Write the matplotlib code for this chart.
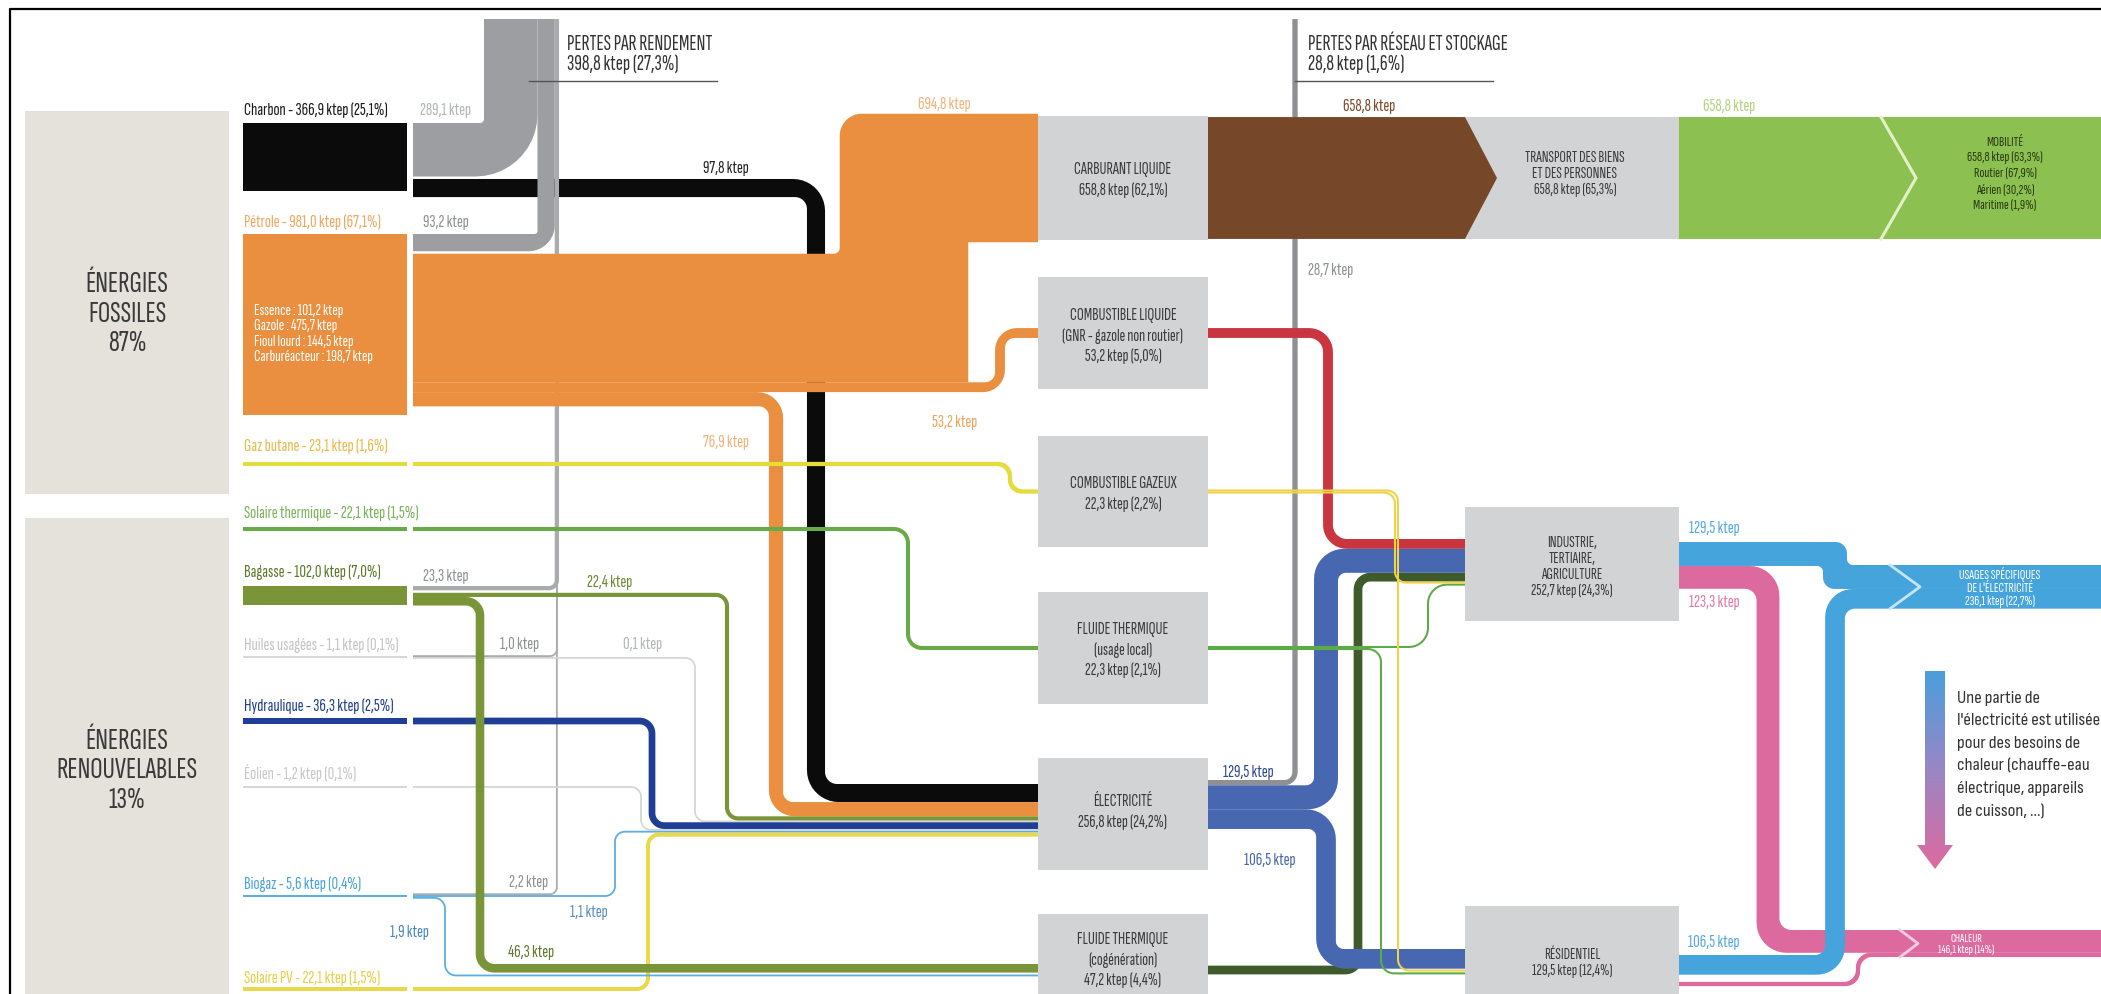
import numpy as np
import matplotlib
matplotlib.use("Agg")
import matplotlib.pyplot as plt
from matplotlib.patches import Polygon, Rectangle
from matplotlib.colors import LinearSegmentedColormap

F_COND = ["Sofia Sans Extra Condensed", "Roboto Condensed", "DejaVu Sans"]
F_NOTE = ["Sofia Sans Condensed", "Roboto Condensed", "DejaVu Sans"]
plt.rcParams["font.family"] = F_COND

# ---------------- données (ktep) ----------------
sources = ["Charbon", "Pétrole", "Gaz butane", "Solaire thermique", "Bagasse",
           "Huiles usagées", "Hydraulique", "Éolien", "Biogaz", "Solaire PV"]
source_ktep = [366.9, 981.0, 23.1, 22.1, 102.0, 1.1, 36.3, 1.2, 5.6, 22.1]
source_pct = ["25,1", "67,1", "1,6", "1,5", "7,0", "0,1", "2,5", "0,1", "0,4", "1,5"]
groupes = ["ÉNERGIES\nFOSSILES\n87%", "ÉNERGIES\nRENOUVELABLES\n13%"]
petrole_detail = ["Essence : 101,2 ktep", "Gazole : 475,7 ktep",
                  "Fioul lourd : 144,5 ktep", "Carburéacteur : 198,7 ktep"]

pertes_rendement = {"Charbon": 289.1, "Pétrole": 93.2, "Bagasse": 23.3,
                    "Huiles usagées": 1.0, "Biogaz": 2.2}
vers_electricite = {"Charbon": 97.8, "Pétrole": 76.9, "Bagasse": 22.4, "Huiles usagées": 0.1,
                    "Hydraulique": 36.3, "Éolien": 1.2, "Biogaz": 1.1, "Solaire PV": 22.1}
vers_carburant = {"Pétrole": 694.8}
vers_gnr = {"Pétrole": 53.2}
vers_gaz = {"Gaz butane": 23.1}
vers_fluide_local = {"Solaire thermique": 22.1}
vers_cogeneration = {"Bagasse": 46.3, "Biogaz": 1.9}

vecteurs = ["CARBURANT LIQUIDE", "COMBUSTIBLE LIQUIDE\n(GNR - gazole non routier)",
            "COMBUSTIBLE GAZEUX", "FLUIDE THERMIQUE\n(usage local)", "ÉLECTRICITÉ",
            "FLUIDE THERMIQUE\n(cogénération)"]
vecteur_ktep = [658.8, 53.2, 22.3, 22.3, 256.8, 47.2]
vecteur_pct = ["62,1", "5,0", "2,2", "2,1", "24,2", "4,4"]

pertes_rendement_total = (398.8, "27,3")
pertes_reseau_total = (28.8, "1,6")
pertes_reseau_elec = 28.7

carburant_vers_transport = 658.8
gnr_vers_industrie = 53.2
gaz_vers_secteurs = [11.2, 11.1]      # industrie, résidentiel
local_vers_secteurs = [11.2, 11.1]    # industrie, résidentiel
elec_vers_secteurs = [129.5, 106.5]   # industrie, résidentiel
cogen_vers_industrie = 47.2

secteurs = ["TRANSPORT DES BIENS\nET DES PERSONNES", "INDUSTRIE,\nTERTIAIRE,\nAGRICULTURE", "RÉSIDENTIEL"]
secteur_ktep = [658.8, 252.7, 129.5]
secteur_pct = ["65,3", "24,3", "12,4"]

industrie_vers_usages = [129.5, 123.3]    # électricité spécifique, chaleur
residentiel_vers_usages = [106.5, 22.8]
usages = ["MOBILITÉ", "USAGES SPÉCIFIQUES\nDE L'ÉLECTRICITÉ", "CHALEUR"]
usage_ktep = [658.8, 236.1, 146.1]
usage_pct = ["63,3", "22,7", "14"]
mobilite_modes = ["Routier", "Aérien", "Maritime"]
mobilite_pct = ["67,9", "30,2", "1,9"]

note = ("Une partie de\nl'électricité est utilisée\npour des besoins de\n"
        "chaleur (chauffe-eau\nélectrique, appareils\nde cuisson, ...)")

# ---------------- styles ----------------
S = 0.185        # pixels per ktep
MINW = 1.8
C_SRC = {"Charbon": "#0b0b0b", "Pétrole": "#e98f3f", "Gaz butane": "#e3dc3c",
         "Solaire thermique": "#68aa48", "Bagasse": "#7a9537", "Huiles usagées": "#d6d6d6",
         "Hydraulique": "#1f3e96", "Éolien": "#d6d6d6", "Biogaz": "#5aaee0",
         "Solaire PV": "#ead84a"}
C_LAB = {"Charbon": "#1a1a1a", "Pétrole": "#f0a860", "Gaz butane": "#e6b94a",
         "Solaire thermique": "#7bb35a", "Bagasse": "#5d7a2a", "Huiles usagées": "#c4c4c4",
         "Hydraulique": "#203f8f", "Éolien": "#c8c8c8", "Biogaz": "#4aa3d8",
         "Solaire PV": "#e8cf45"}
C_LOSS = "#9c9ea1"
C_BOX = "#d1d3d4"
C_GROUP = "#e4e2db"
C_TXT = "#3a3a3a"

FS_SRC = 13
FS_FLOW = 13
FS_NODE = 12.5


def wpx(v):
    return max(v * S, MINW)


def fmt(v):
    return f"{v:.1f}".replace(".", ",")


fig = plt.figure(figsize=(21.01, 9.95), dpi=100)
ax = fig.add_axes([0, 0, 1, 1])
ax.set_xlim(0, 2101)
ax.set_ylim(995, 0)
ax.axis("off")


def round_corners(P, radii, k=0.5523, nseg=12):
    out = [P[0]]
    m = len(P)
    for i in range(1, m - 1):
        a = P[i] - P[i - 1]
        la = np.hypot(*a)
        b = P[i + 1] - P[i]
        lb = np.hypot(*b)
        if la < 1e-9 or lb < 1e-9:
            out.append(P[i])
            continue
        a = a / la
        b = b / lb
        r = min(radii[i - 1], la * (1.0 if i == 1 else 0.5), lb * (1.0 if i == m - 2 else 0.5))
        if r < 0.3:
            out.append(P[i])
            continue
        t1 = P[i] - a * r
        t2 = P[i] + b * r
        c1 = t1 + a * r * k
        c2 = t2 - b * r * k
        t = np.linspace(0, 1, nseg)[:, None]
        out.extend((1 - t) ** 3 * t1 + 3 * (1 - t) ** 2 * t * c1
                   + 3 * (1 - t) * t ** 2 * c2 + t ** 3 * t2)
    out.append(P[-1])
    return np.array(out)


def ribbon(pts, value, color, r_in=10.0, r_out=None, z=3):
    """Orthogonal band of width proportional to value, with rounded corners."""
    w = wpx(value)
    P = np.array(pts, float)
    n = len(P)
    u = np.diff(P, axis=0)
    u = u / np.hypot(u[:, 0], u[:, 1])[:, None]
    nv = np.column_stack([-u[:, 1], u[:, 0]])
    h = w / 2
    m = max(n - 2, 0)
    rin = np.broadcast_to(np.asarray(r_in, float), (m,)) if m else []
    if r_out is None:
        rout = [ri + w for ri in rin]
    else:
        rout = np.broadcast_to(np.asarray(r_out, float), (m,)) if m else []
    A = [P[0] + nv[0] * h]
    B = [P[0] - nv[0] * h]
    ra, rb = [], []
    for i in range(1, n - 1):
        off = (nv[i - 1] + nv[i]) * h
        A.append(P[i] + off)
        B.append(P[i] - off)
        left_inner = np.dot(u[i], nv[i - 1]) > 0
        ri, ro = rin[i - 1], rout[i - 1]
        ra.append(ri if left_inner else ro)
        rb.append(ro if left_inner else ri)
    A.append(P[-1] + nv[-1] * h)
    B.append(P[-1] - nv[-1] * h)
    A = round_corners(np.array(A), ra)
    B = round_corners(np.array(B), rb)
    ax.add_patch(Polygon(np.vstack([A, B[::-1]]), closed=True, facecolor=color,
                         edgecolor="none", zorder=z))


def label(x, y, s, color, size=11, ha="center", z=10, **kw):
    ax.text(x, y, s, color=color, fontsize=size, ha=ha, va="center", zorder=z, **kw)


# ---------------- frame and group boxes ----------------
ax.plot([9.5, 9.5, 2101], [995, 9.5, 9.5], color="black", lw=1.6, zorder=1)
ax.add_patch(Rectangle((25, 112), 204, 383, facecolor=C_GROUP, edgecolor="none", zorder=1))
ax.add_patch(Rectangle((25, 519), 204, 490, facecolor=C_GROUP, edgecolor="none", zorder=1))
label(127, 314, groupes[0], C_TXT, size=22, linespacing=1.12)
label(127, 771, groupes[1], C_TXT, size=22, linespacing=1.12)

# ---------------- primary sources ----------------
XS0, XS1, XS2 = 243, 407, 413
XN0, XN1 = 1038, 1208
Y_TOP = 20
src_layout = {
    "Charbon": dict(top=124, label=110), "Pétrole": dict(top=235, label=222),
    "Gaz butane": dict(mid=465, label=446), "Solaire thermique": dict(mid=530, label=513),
    "Bagasse": dict(top=587, label=572), "Huiles usagées": dict(mid=658, label=645),
    "Hydraulique": dict(mid=722, label=706), "Éolien": dict(mid=788, label=773),
    "Biogaz": dict(mid=897, label=884), "Solaire PV": dict(mid=990, label=978),
}
target_dicts = [("pertes", pertes_rendement), ("carburant", vers_carburant), ("gnr", vers_gnr),
                ("gaz", vers_gaz), ("local", vers_fluide_local), ("elec", vers_electricite),
                ("cogen", vers_cogeneration)]

ystack = {}
for name, v, pct in zip(sources, source_ktep, source_pct):
    lay = src_layout[name]
    w = wpx(v)
    top = lay["top"] if "top" in lay else lay["mid"] - w / 2
    ax.add_patch(Rectangle((XS0, top), XS1 - XS0, w, facecolor=C_SRC[name],
                           edgecolor="none", zorder=4))
    label(XS0 + 1, lay["label"], f"{name} - {fmt(v)} ktep ({pct}%)", C_LAB[name],
          size=FS_SRC, ha="left")
    outs = [(t, d[name]) for t, d in target_dicts if name in d]
    tot = sum(wpx(x) for _, x in outs)
    gap = 2.5 if ("top" in lay and len(outs) > 1) else 0
    y = lay["top"] if "top" in lay else lay["mid"] - tot / 2
    for t, x in outs:
        ww = wpx(x)
        ystack[(name, t)] = y + ww / 2
        y += ww + (gap if t == "pertes" else 0)

label(254, 334, "\n".join(petrole_detail), "white", size=11.8, ha="left", linespacing=1.15)

# loss column positions
xcol = {}
xc = 484
for name in ["Charbon", "Pétrole", "Bagasse"]:
    ww = wpx(pertes_rendement[name])
    xcol[name] = xc + ww / 2
    xc += ww
xcol["Huiles usagées"] = xcol["Bagasse"]
xcol["Biogaz"] = xcol["Bagasse"]

# entry positions on electricity and cogeneration boxes
elec_order = ["Charbon", "Pétrole", "Bagasse", "Huiles usagées", "Hydraulique",
              "Éolien", "Biogaz", "Solaire PV"]
yE = {}
y = 785
for n_ in elec_order:
    ww = wpx(vers_electricite[n_])
    yE[n_] = y + ww / 2
    y += ww
x_elec_turn = {"Charbon": 816, "Pétrole": 776, "Bagasse": 727, "Huiles usagées": 695,
               "Hydraulique": 652, "Éolien": 641, "Biogaz": 615, "Solaire PV": 648}
yC = {}
y = 965
for n_ in ["Bagasse", "Biogaz"]:
    ww = wpx(vers_cogeneration[n_])
    yC[n_] = y + ww / 2
    y += ww + 2
x_cog_turn = {"Bagasse": 480, "Biogaz": 445}

node_box = [(117, 241), (278, 390), (437, 548), (593, 705), (759, 871), (915, 1027)]
node_mid = [(a + b) / 2 for a, b in node_box]
node_text_y = [180, 336, 494, 650, 812, 960]


def elec_path(name):
    y0 = ystack[(name, "elec")]
    xt = x_elec_turn[name]
    return [(XS2, y0), (xt, y0), (xt, yE[name]), (XN0, yE[name])]


# black coal flow to electricity
ribbon(elec_path("Charbon"), vers_electricite["Charbon"], C_SRC["Charbon"], r_in=12, r_out=32, z=3)
# small losses (thin grey line)
for name in ["Bagasse", "Huiles usagées", "Biogaz"]:
    y0 = ystack[(name, "pertes")]
    ribbon([(XS2, y0), (xcol[name], y0), (xcol[name], Y_TOP)], pertes_rendement[name],
           "#a9abad", r_in=6, z=3.2)
# main conversion losses
for name, ri, ro in [("Charbon", 4, 62), ("Pétrole", 3, 26)]:
    y0 = ystack[(name, "pertes")]
    ribbon([(XS2, y0), (xcol[name], y0), (xcol[name], Y_TOP)], pertes_rendement[name],
           C_LOSS, r_in=ri, r_out=ro, z=3.4)

# oil flows
OR = C_SRC["Pétrole"]
y0 = ystack[("Pétrole", "carburant")]
ribbon([(XS2, y0), (904, y0), (904, node_mid[0]), (XN0, node_mid[0])],
       vers_carburant["Pétrole"], OR, r_in=[6, 0], r_out=[0, 22], z=3.6)
y0 = ystack[("Pétrole", "gnr")]
ribbon([(XS2, y0), (1000, y0), (1000, node_mid[1]), (XN0, node_mid[1])],
       vers_gnr["Pétrole"], OR, r_in=10, r_out=22, z=3.6)
ribbon(elec_path("Pétrole"), vers_electricite["Pétrole"], OR, r_in=10, r_out=26, z=3.6)

# renewables and other small flows
for name in ["Huiles usagées", "Hydraulique", "Éolien", "Biogaz", "Solaire PV"]:
    ribbon(elec_path(name), vers_electricite[name], C_SRC[name], r_in=9, z=4)
ribbon(elec_path("Bagasse"), vers_electricite["Bagasse"], C_SRC["Bagasse"], r_in=9, z=4.2)
for name in ["Bagasse", "Biogaz"]:
    y0 = ystack[(name, "cogen")]
    xt = x_cog_turn[name]
    ribbon([(XS2, y0), (xt, y0), (xt, yC[name]), (XN0, yC[name])],
           vers_cogeneration[name], C_SRC[name], r_in=10, z=4.2)
y0 = ystack[("Solaire thermique", "local")]
ribbon([(XS2, y0), (908, y0), (908, node_mid[3]), (XN0, node_mid[3])],
       vers_fluide_local["Solaire thermique"], C_SRC["Solaire thermique"], r_in=12, z=4.4)
y0 = ystack[("Gaz butane", "gaz")]
ribbon([(XS2, y0), (1010, y0), (1010, node_mid[2]), (XN0, node_mid[2])],
       vers_gaz["Gaz butane"], C_SRC["Gaz butane"], r_in=11, z=4.4)

# ---------------- energy vectors (boxes) ----------------
for (a, b), ty, txt, v, pct in zip(node_box, node_text_y, vecteurs, vecteur_ktep, vecteur_pct):
    ax.add_patch(Rectangle((XN0, a), XN1 - XN0, b - a, facecolor=C_BOX, edgecolor="none", zorder=5))
    label((XN0 + XN1) / 2, ty, f"{txt}\n{fmt(v)} ktep ({pct}%)", C_TXT,
          size=FS_NODE, linespacing=1.35)

# headers
label(567, 44, "PERTES PAR RENDEMENT", "#333333", size=15.5, ha="left")
label(567, 64, f"{fmt(pertes_rendement_total[0])} ktep ({pertes_rendement_total[1]}%)",
      "#333333", size=15.5, ha="left")
ax.plot([529, 717], [82, 82], color="#555555", lw=1.0, zorder=6)
label(1308, 44, "PERTES PAR RÉSEAU ET STOCKAGE", "#333333", size=15.5, ha="left")
label(1308, 64, f"{fmt(pertes_reseau_total[0])} ktep ({pertes_reseau_total[1]}%)",
      "#333333", size=15.5, ha="left")
ax.plot([1295, 1493], [82, 82], color="#555555", lw=1.0, zorder=6)

# ---------------- transport chain ----------------
wt = wpx(carburant_vers_transport)
t0, t1 = node_mid[0] - wt / 2, node_mid[0] + wt / 2
ax.add_patch(Rectangle((1465, t0), 1679 - 1465, wt, facecolor=C_BOX, edgecolor="none", zorder=5))
ax.add_patch(Polygon([(XN1, t0), (1465, t0), (1497, node_mid[0]), (1465, t1), (XN1, t1)],
                     closed=True, facecolor="#77472a", edgecolor="none", zorder=5.2))
ax.add_patch(Rectangle((1679, t0), 2101 - 1679, wt, facecolor="#8cc152", edgecolor="none", zorder=5))
ax.plot([1881, 1916, 1881], [t0, node_mid[0], t1], color="#e4f0c6", lw=2.2, zorder=5.5,
        solid_joinstyle="miter")
label(1575, 174, f"{secteurs[0]}\n{fmt(secteur_ktep[0])} ktep ({secteur_pct[0]}%)",
      C_TXT, size=11.5, linespacing=1.15)
mob = [usages[0], f"{fmt(usage_ktep[0])} ktep ({usage_pct[0]}%)"] + \
      [f"{m} ({p}%)" for m, p in zip(mobilite_modes, mobilite_pct)]
label(2005, 174, "\n".join(mob), "#2b3a12", size=10.5, linespacing=1.3)

# ---------------- sectors ----------------
XI0, XI1 = 1465, 1679
ind_box = (508, 622)
res_box = (907, 1045)

ind_in = [("gnr", gnr_vers_industrie), ("elec", elec_vers_secteurs[0]),
          ("cogen", cogen_vers_industrie), ("gaz", gaz_vers_secteurs[0]),
          ("local", local_vers_secteurs[0])]
yI = {}
y = 540
for k_, v in ind_in:
    ww = wpx(v)
    yI[k_] = y + ww / 2
    y += ww
res_in = [("elec", elec_vers_secteurs[1]), ("gaz", gaz_vers_secteurs[1]),
          ("local", local_vers_secteurs[1])]
yR = {}
y = 950
for k_, v in res_in:
    ww = wpx(v)
    yR[k_] = y + ww / 2
    y += ww + 0.8

# electricity outputs
ye = {}
y = 781
for k_, v in [("loss", pertes_reseau_elec), ("ind", elec_vers_secteurs[0]),
              ("res", elec_vers_secteurs[1])]:
    ww = wpx(v)
    ye[k_] = y + ww / 2
    y += ww
ribbon([(XN1, ye["loss"]), (1295, ye["loss"]), (1295, Y_TOP)], pertes_reseau_elec,
       "#8e9093", r_in=8, z=4.5)
# GNR -> industry
ribbon([(XN1, node_mid[1]), (1328, node_mid[1]), (1328, yI["gnr"]), (XI0, yI["gnr"])],
       gnr_vers_industrie, "#c9363f", r_in=14, z=4.6)
# cogeneration -> industry
ribbon([(XN1, node_mid[5]), (1358, node_mid[5]), (1358, yI["cogen"]), (XI0, yI["cogen"])],
       cogen_vers_industrie, "#3f5b2c", r_in=8, z=4.7)
# electricity -> sectors
EB = "#4767b1"
ribbon([(XN1, ye["ind"]), (1326, ye["ind"]), (1326, yI["elec"]), (XI0, yI["elec"])],
       elec_vers_secteurs[0], EB, r_in=8, r_out=30, z=4.8)
ribbon([(XN1, ye["res"]), (1326, ye["res"]), (1326, yR["elec"]), (XI0, yR["elec"])],
       elec_vers_secteurs[1], EB, r_in=8, r_out=30, z=4.8)
# fluide thermique local -> sectors
wl = [wpx(v) for v in local_vers_secteurs]
yl_ind = node_mid[3] - (wl[0] + wl[1]) / 2 + wl[0] / 2
yl_res = yl_ind + wl[0] / 2 + wl[1] / 2
ribbon([(XN1, yl_ind), (1428, yl_ind), (1428, yI["local"]), (XI0, yI["local"])],
       local_vers_secteurs[0], "#5cab46", r_in=18, z=4.9)
ribbon([(XN1, yl_res), (1381, yl_res), (1381, yR["local"]), (XI0, yR["local"])],
       local_vers_secteurs[1], "#5cab46", r_in=12, z=4.9)
# combustible gazeux -> sectors
wg = [wpx(v) for v in gaz_vers_secteurs]
yg_res = node_mid[2] - (wg[0] + wg[1]) / 2 + wg[1] / 2
yg_ind = yg_res + wg[1] / 2 + wg[0] / 2
ribbon([(XN1, yg_ind), (1395, yg_ind), (1395, yI["gaz"]), (XI0, yI["gaz"])],
       gaz_vers_secteurs[0], "#efd24a", r_in=10, z=5.0)
ribbon([(XN1, yg_res), (1398, yg_res), (1398, yR["gaz"]), (XI0, yR["gaz"])],
       gaz_vers_secteurs[1], "#efd24a", r_in=10, z=5.0)

ax.add_patch(Rectangle((XI0, ind_box[0]), XI1 - XI0, ind_box[1] - ind_box[0],
                       facecolor=C_BOX, edgecolor="none", zorder=5.5))
ax.add_patch(Rectangle((XI0, res_box[0]), XI1 - XI0, res_box[1] - res_box[0],
                       facecolor=C_BOX, edgecolor="none", zorder=5.5))
label((XI0 + XI1) / 2, sum(ind_box) / 2 + 2,
      f"{secteurs[1]}\n{fmt(secteur_ktep[1])} ktep ({secteur_pct[1]}%)", C_TXT, size=11.5,
      linespacing=1.15)
label((XI0 + XI1) / 2, 963, f"{secteurs[2]}\n{fmt(secteur_ktep[2])} ktep ({secteur_pct[2]}%)",
      C_TXT, size=11.5, linespacing=1.15)

# ---------------- final uses ----------------
LB, PK = "#45a4dc", "#dd6a9f"
wi = [wpx(v) for v in industrie_vers_usages]
yi_lb = 543 + wi[0] / 2
yi_pk = 543 + wi[0] + wi[1] / 2
wr = [wpx(v) for v in residentiel_vers_usages]
yr_lb = 956 + wr[0] / 2
yr_pk = 985
# usage bands on the right edge
yU_ind = 566 + wi[0] / 2
yU_res = 566 + wi[0] + wr[0] / 2
yH_ind = 931 + wi[1] / 2
yH_res = 931 + wi[1] + wr[1] / 2

ribbon([(XI1, yi_pk), (1768, yi_pk), (1768, yH_ind), (2101, yH_ind)],
       industrie_vers_usages[1], PK, r_in=12, r_out=30, z=6)
ribbon([(XI1, yr_pk), (1858, yr_pk), (1858, yH_res), (2101, yH_res)],
       residentiel_vers_usages[1], PK, r_in=12, z=6)
ribbon([(XI1, yi_lb), (1835, yi_lb), (1835, yU_ind), (2101, yU_ind)],
       industrie_vers_usages[0], LB, r_in=6, r_out=14, z=6.2)
ribbon([(XI1, yr_lb), (1835, yr_lb), (1835, yU_res), (2101, yU_res)],
       residentiel_vers_usages[0], LB, r_in=10, r_out=28, z=6.2)

u0, u1 = 566, yU_res + wr[0] / 2
ax.plot([1890, 1920, 1890], [u0, (u0 + u1) / 2, u1], color="#c7e4f6", lw=2.0, zorder=6.5)
h0, h1 = 931, yH_res + wr[1] / 2
ax.plot([1900, 1918, 1900], [h0, (h0 + h1) / 2, h1], color="#f6cde0", lw=2.0, zorder=6.5)
label(2000, (u0 + u1) / 2, f"{usages[1]}\n{fmt(usage_ktep[1])} ktep ({usage_pct[1]}%)",
      "white", size=10, linespacing=1.0)
label(1966, (h0 + h1) / 2, f"{usages[2]}\n{fmt(usage_ktep[2])} ktep ({usage_pct[2]}%)",
      "white", size=9, linespacing=0.95)

# gradient arrow with explanatory note
arrow = Polygon([(1925, 672), (1945, 672), (1945, 846), (1953, 846), (1935, 870),
                 (1917, 846), (1925, 846)], closed=True, facecolor="none", edgecolor="none")
ax.add_patch(arrow)
cmap = LinearSegmentedColormap.from_list("elec_chaleur", ["#4a9fdc", "#9a86c4", "#dd6a9f"])
im = ax.imshow(np.linspace(0, 1, 256)[:, None], extent=(1917, 1953, 870, 672), cmap=cmap,
               aspect="auto", zorder=6)
im.set_clip_path(arrow)
ax.text(1957, 755, note, color="#333333", fontsize=13.5, ha="left", va="center",
        linespacing=1.62, family=F_NOTE, zorder=10)

# ---------------- flow values ----------------
G1, G2 = "#b3b5b7", "#8f9193"
flow_labels = [
    (420, 110, pertes_rendement["Charbon"], G1, "left"),
    (423, 222, pertes_rendement["Pétrole"], G2, "left"),
    (726, 168, vers_electricite["Charbon"], "#222222", "center"),
    (944, 104, vers_carburant["Pétrole"], "#f2b27a", "center"),
    (955, 422, vers_gnr["Pétrole"], "#eea35c", "center"),
    (726, 443, vers_electricite["Pétrole"], "#f2b27a", "center"),
    (423, 576, pertes_rendement["Bagasse"], G2, "left"),
    (610, 582, vers_electricite["Bagasse"], "#6e8a35", "center"),
    (520, 645, pertes_rendement["Huiles usagées"], G2, "center"),
    (643, 645, vers_electricite["Huiles usagées"], G1, "center"),
    (529, 882, pertes_rendement["Biogaz"], G2, "center"),
    (589, 913, vers_electricite["Biogaz"], "#5a8fc0", "center"),
    (409, 933, vers_cogeneration["Biogaz"], "#4a86c0", "center"),
    (531, 952, vers_cogeneration["Bagasse"], "#5f7a30", "center"),
    (1308, 271, pertes_reseau_elec, G2, "left"),
    (1248, 772, elec_vers_secteurs[0], "#2e4a8c", "center"),
    (1270, 860, elec_vers_secteurs[1], "#4866a8", "center"),
    (1369, 106, carburant_vers_transport, "#7a4a2a", "center"),
    (1729, 106, usage_ktep[0], "#b4d37e", "center"),
    (1714, 528, industrie_vers_usages[0], "#55aadd", "center"),
    (1714, 603, industrie_vers_usages[1], "#e07aa8", "center"),
    (1714, 943, residentiel_vers_usages[0], "#55aadd", "center"),
]
for x, y, v, c, ha in flow_labels:
    label(x, y, f"{fmt(v)} ktep", c, size=FS_FLOW, ha=ha)

ax.set_xlim(0, 2101)
ax.set_ylim(995, 0)
fig.savefig("out.png", dpi=100, facecolor="white")
